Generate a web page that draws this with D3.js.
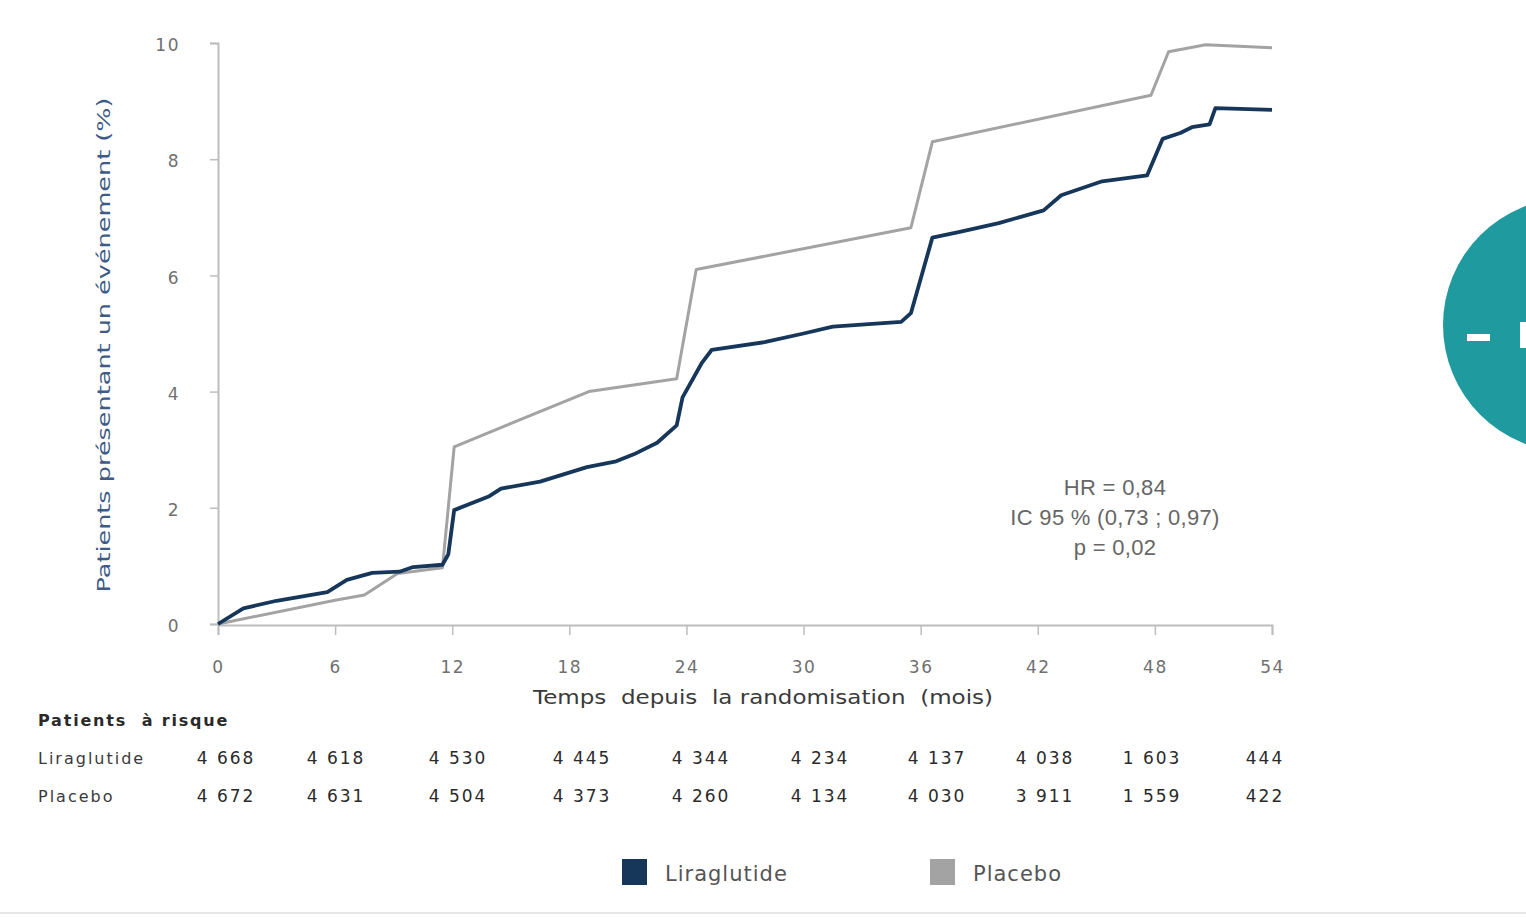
<!DOCTYPE html>
<html>
<head>
<meta charset="utf-8">
<script src="https://cdn.jsdelivr.net/npm/d3@7"></script>
<style>
  body { margin: 0; background: #fff; }
  svg { display: block; }
</style>
</head>
<body>
<div id="chart"></div>
<script>
var svgWidth = 1526;
var svgHeight = 917;

// Kaplan-Meier type curves (months, % of patients with event)
var placeboMonths = [0, 6, 7.5, 9.2, 11.5, 12.1, 19, 23.5, 24.5, 35.5, 36.6, 47.8, 48.7, 50.6, 54];
var placeboValues = [0, 0.41, 0.5, 0.87, 0.97, 3.05, 4.0, 4.22, 6.1, 6.82, 8.3, 9.1, 9.85, 9.97, 9.92];

var liraMonths = [0, 1.3, 3, 5.6, 6.6, 7.9, 9.3, 10, 11.5, 11.8, 12.1, 13.9, 14.5, 16.5, 18.9, 20.4, 21.3, 22.5, 23.5, 23.8, 24.8, 25.3, 28, 30, 31.5, 35, 35.5, 36.6, 38, 40, 42.3, 43.2, 45.3, 47.6, 48.4, 49.3, 49.9, 50.8, 51.1, 54];
var liraValues = [0, 0.27, 0.4, 0.55, 0.76, 0.88, 0.9, 0.98, 1.02, 1.2, 1.96, 2.2, 2.33, 2.45, 2.7, 2.8, 2.92, 3.12, 3.42, 3.9, 4.5, 4.72, 4.85, 5.0, 5.12, 5.2, 5.35, 6.65, 6.75, 6.9, 7.12, 7.38, 7.62, 7.72, 8.35, 8.45, 8.55, 8.6, 8.88, 8.85];

var xTicks = [0, 6, 12, 18, 24, 30, 36, 42, 48, 54];
var yTicks = [0, 2, 4, 6, 8, 10];

// patients at risk
var riskLira = ["4 668", "4 618", "4 530", "4 445", "4 344", "4 234", "4 137", "4 038", "1 603", "444"];
var riskPlacebo = ["4 672", "4 631", "4 504", "4 373", "4 260", "4 134", "4 030", "3 911", "1 559", "422"];

var seriesNames = ["Liraglutide", "Placebo"];
var seriesColors = ["#16375a", "#a3a3a3"];

var stats = ["HR = 0,84", "IC 95 % (0,73 ; 0,97)", "p = 0,02"];

var svg = d3.select("#chart")
  .append("svg")
  .attr("width", svgWidth)
  .attr("height", svgHeight);

// decorative teal badge on the right edge
svg.append("circle")
  .attr("cx", 1570)
  .attr("cy", 325)
  .attr("r", 127)
  .attr("fill", "#1f9a9e");
svg.append("rect")
  .attr("x", 1467).attr("y", 334).attr("width", 23).attr("height", 7)
  .attr("fill", "#fff");
svg.append("rect")
  .attr("x", 1520).attr("y", 322).attr("width", 6).attr("height", 26)
  .attr("fill", "#fff");

// thin rule at the bottom
svg.append("line")
  .attr("x1", 0).attr("x2", svgWidth)
  .attr("y1", 913).attr("y2", 913)
  .attr("stroke", "#e6e6e6").attr("stroke-width", 2);

//scales
var x = d3.scaleLinear().domain([0, 54]).range([218, 1272]);
var y = d3.scaleLinear().domain([0, 10]).range([624, 43]);

//axes
var bottomAxis = d3.axisBottom(x).tickValues(xTicks).tickSize(10).tickPadding(26);
var leftAxis = d3.axisLeft(y).tickValues(yTicks).tickSize(8).tickPadding(30);

var gx = svg.append("g")
  .attr("transform", "translate(0, 625)")
  .call(bottomAxis);
var gy = svg.append("g")
  .attr("transform", "translate(218, 0)")
  .call(leftAxis);

[gx, gy].forEach(function(g) {
  g.select(".domain").attr("stroke", "#bdbdbd").attr("stroke-width", 2);
  g.selectAll(".tick line").attr("stroke", "#bdbdbd").attr("stroke-width", 1.5);
  g.selectAll(".tick text")
    .attr("fill", "#707070")
    .attr("font-family", "DejaVu Sans, sans-serif")
    .attr("font-size", 17)
    .attr("letter-spacing", 1.5);
});
gy.selectAll(".tick text").attr("dy", "0.45em");

//lines
var line = d3.line()
  .x(d => x(d[0]))
  .y(d => y(d[1]));

var placeboData = placeboMonths.map((m, i) => [m, placeboValues[i]]);
var liraData = liraMonths.map((m, i) => [m, liraValues[i]]);

svg.append("path")
  .datum(placeboData)
  .attr("d", line)
  .attr("fill", "none")
  .attr("stroke", seriesColors[1])
  .attr("stroke-width", 3)
  .attr("stroke-linejoin", "round");

svg.append("path")
  .datum(liraData)
  .attr("d", line)
  .attr("fill", "none")
  .attr("stroke", seriesColors[0])
  .attr("stroke-width", 3.8)
  .attr("stroke-linejoin", "round");

// axis titles
svg.append("text")
  .attr("x", 763)
  .attr("y", 704)
  .attr("text-anchor", "middle")
  .attr("font-family", "DejaVu Sans, sans-serif")
  .attr("font-size", 19)
  .attr("fill", "#3a3a3a")
  .attr("textLength", 460)
  .attr("lengthAdjust", "spacingAndGlyphs")
  .style("white-space", "pre")
  .text("Temps  depuis  la randomisation  (mois)");

svg.append("text")
  .attr("transform", "translate(110, 345) rotate(-90)")
  .attr("text-anchor", "middle")
  .attr("font-family", "DejaVu Sans, sans-serif")
  .attr("font-size", 18)
  .attr("fill", "#3d5b86")
  .attr("textLength", 495)
  .attr("lengthAdjust", "spacingAndGlyphs")
  .text("Patients présentant un événement (%)");

// stats annotation
svg.append("g").selectAll("text")
  .data(stats)
  .enter()
  .append("text")
  .attr("x", 1115)
  .attr("y", (d, i) => 495 + i * 30)
  .attr("text-anchor", "middle")
  .attr("font-family", "Liberation Sans, Arial, sans-serif")
  .attr("font-size", 22)
  .attr("letter-spacing", 0.3)
  .attr("fill", "#666")
  .text(d => d);

// patients at risk table: column centres
var col = d3.scaleOrdinal()
  .domain(d3.range(xTicks.length))
  .range([226, 336, 458, 582, 701, 820, 937, 1045, 1152, 1265]);

svg.append("text")
  .attr("x", 38).attr("y", 726)
  .attr("font-family", "DejaVu Sans, sans-serif")
  .attr("font-size", 16)
  .attr("font-weight", 700)
  .attr("letter-spacing", 1.8)
  .attr("fill", "#2a2a2a")
  .style("white-space", "pre")
  .text("Patients  à risque");

[[seriesNames[0], riskLira, 764], [seriesNames[1], riskPlacebo, 802]].forEach(function(row) {
  svg.append("text")
    .attr("x", 38).attr("y", row[2])
    .attr("font-family", "DejaVu Sans, sans-serif")
    .attr("font-size", 16)
    .attr("letter-spacing", 2)
    .attr("fill", "#3a3a3a")
    .text(row[0]);
  svg.append("g").selectAll("text")
    .data(row[1])
    .enter()
    .append("text")
    .attr("x", (d, i) => col(i))
    .attr("y", row[2])
    .attr("text-anchor", "middle")
    .attr("font-family", "DejaVu Sans, sans-serif")
    .attr("font-size", 17)
    .attr("letter-spacing", 2)
    .attr("fill", "#2a2a2a")
    .style("white-space", "pre")
    .text(d => d);
});

// legend
var legendX = [622, 930];
var legend = svg.append("g").selectAll("g")
  .data(seriesNames)
  .enter()
  .append("g")
  .attr("transform", (d, i) => `translate(${legendX[i]}, 859)`);

legend.append("rect")
  .attr("width", 25).attr("height", 26)
  .attr("fill", (d, i) => seriesColors[i]);

legend.append("text")
  .attr("x", 43).attr("y", 22)
  .attr("font-family", "DejaVu Sans, sans-serif")
  .attr("font-size", 21)
  .attr("letter-spacing", 1)
  .attr("fill", "#555")
  .text(d => d);
</script>
</body>
</html>
